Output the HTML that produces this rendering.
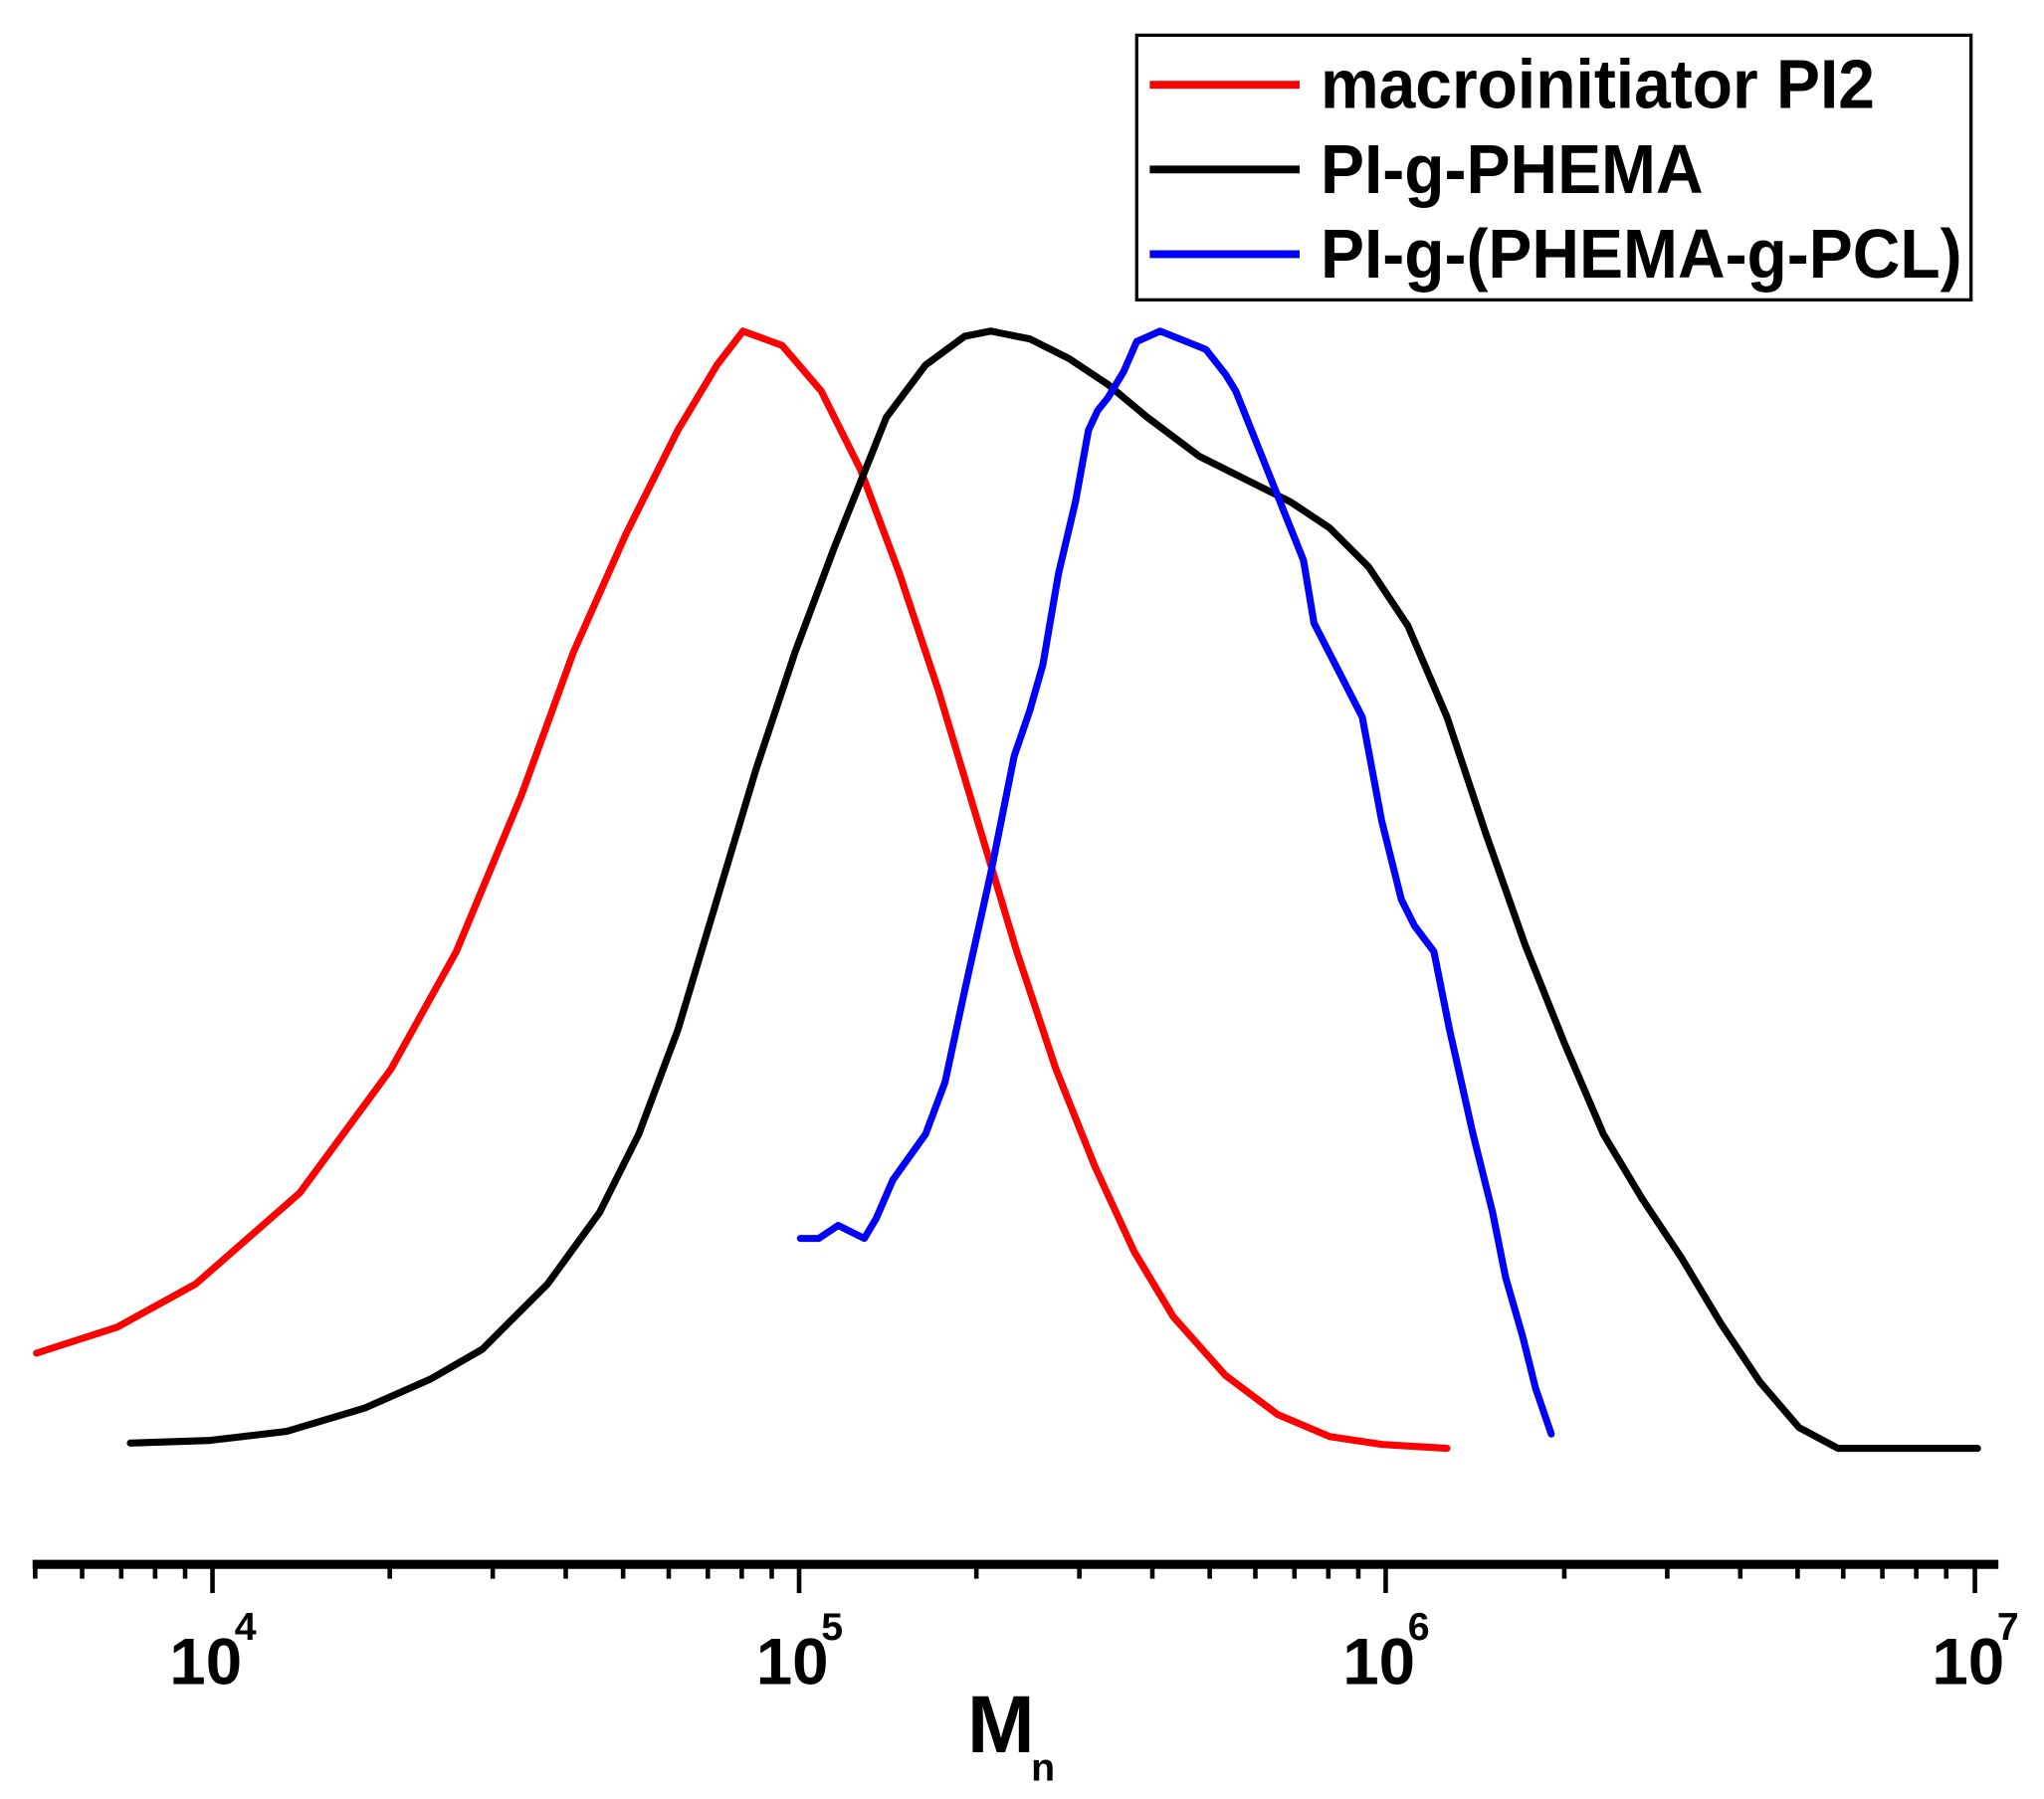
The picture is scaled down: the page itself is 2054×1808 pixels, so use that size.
<!DOCTYPE html>
<html><head><style>
html,body{margin:0;padding:0;background:#fff;}
svg{display:block;}
text{font-family:"Liberation Sans Narrow","Liberation Sans",sans-serif;font-weight:bold;fill:#000;}
</style></head><body>
<svg width="2054" height="1808" viewBox="0 0 1568 1380" preserveAspectRatio="none" xmlns="http://www.w3.org/2000/svg">
<g fill="none" stroke-width="5.4" stroke-linejoin="round" stroke-linecap="round">
<polyline stroke="#f00" points="28,1038 90,1018 150,985 230,915 300,820 350,730 400,610 440,500 480,410 520,330 550,280 570,254 600,265 630,300 660,360 690,440 720,530 750,630 780,730 810,820 840,895 870,960 900,1010 940,1055 980,1085 1020,1102 1060,1108 1110,1111"/>
<polyline stroke="#000" points="100,1107 160,1105 220,1098 280,1080 330,1058 370,1035 420,985 460,930 490,870 520,790 550,690 580,590 610,500 640,420 680,320 710,280 740,258 760,254 790,260 820,275 850,295 880,320 920,350 960,370 990,385 1020,405 1050,435 1080,480 1110,550 1140,640 1170,725 1200,800 1230,870 1260,920 1290,965 1320,1015 1350,1060 1380,1095 1410,1111 1517,1111"/>
<polyline stroke="#00f" points="614,950 628,950 643,940 663,950 672,935 685,905 710,870 725,830 740,760 760,670 778,580 790,545 800,510 812,440 825,385 835,330 842,315 850,305 862,285 872,262 890,254 905,260 925,268 940,287 948,300 960,330 980,380 1000,430 1008,478 1045,550 1060,630 1075,690 1085,710 1100,730 1112,790 1130,870 1145,930 1155,980 1168,1025 1178,1065 1190,1100"/>
</g>
<line x1="25" y1="1200" x2="1533" y2="1200" stroke="#000" stroke-width="7"/>
<g font-size="50">
<text x="130" y="1292">10</text><text x="180" y="1258" font-size="30">4</text>
<text x="580" y="1292">10</text><text x="630" y="1258" font-size="30">5</text>
<text x="1030" y="1292">10</text><text x="1080" y="1258" font-size="30">6</text>
<text x="1482" y="1292">10</text><text x="1532" y="1258" font-size="30">7</text>
</g>
<text x="742" y="1344" font-size="62">M</text>
<text x="791" y="1366" font-size="30">n</text>
<rect x="872" y="27" width="640" height="203" fill="none" stroke="#000" stroke-width="2.5"/>
<line x1="882" y1="65" x2="997" y2="65" stroke="#f00" stroke-width="6"/>
<line x1="882" y1="130" x2="997" y2="130" stroke="#000" stroke-width="6"/>
<line x1="882" y1="195" x2="997" y2="195" stroke="#00f" stroke-width="6"/>
<g font-size="53" transform="translate(1013,0) scale(0.95,1)">
<text x="0" y="83">macroinitiator PI2</text>
<text x="0" y="148">PI-g-PHEMA</text>
<text x="0" y="213">PI-g-(PHEMA-g-PCL)</text>
</g>
<g stroke="#000" stroke-width="3.5">
<line x1="27" y1="1200" x2="27" y2="1211"/>
<line x1="63" y1="1200" x2="63" y2="1211"/>
<line x1="93" y1="1200" x2="93" y2="1211"/>
<line x1="119" y1="1200" x2="119" y2="1211"/>
<line x1="142" y1="1200" x2="142" y2="1211"/>
<line x1="163" y1="1200" x2="163" y2="1222"/>
<line x1="299" y1="1200" x2="299" y2="1211"/>
<line x1="378" y1="1200" x2="378" y2="1211"/>
<line x1="434" y1="1200" x2="434" y2="1211"/>
<line x1="478" y1="1200" x2="478" y2="1211"/>
<line x1="513" y1="1200" x2="513" y2="1211"/>
<line x1="543" y1="1200" x2="543" y2="1211"/>
<line x1="569" y1="1200" x2="569" y2="1211"/>
<line x1="592" y1="1200" x2="592" y2="1211"/>
<line x1="613" y1="1200" x2="613" y2="1222"/>
<line x1="749" y1="1200" x2="749" y2="1211"/>
<line x1="828" y1="1200" x2="828" y2="1211"/>
<line x1="884" y1="1200" x2="884" y2="1211"/>
<line x1="928" y1="1200" x2="928" y2="1211"/>
<line x1="963" y1="1200" x2="963" y2="1211"/>
<line x1="993" y1="1200" x2="993" y2="1211"/>
<line x1="1019" y1="1200" x2="1019" y2="1211"/>
<line x1="1042" y1="1200" x2="1042" y2="1211"/>
<line x1="1063" y1="1200" x2="1063" y2="1222"/>
<line x1="1200" y1="1200" x2="1200" y2="1211"/>
<line x1="1279" y1="1200" x2="1279" y2="1211"/>
<line x1="1335" y1="1200" x2="1335" y2="1211"/>
<line x1="1379" y1="1200" x2="1379" y2="1211"/>
<line x1="1414" y1="1200" x2="1414" y2="1211"/>
<line x1="1444" y1="1200" x2="1444" y2="1211"/>
<line x1="1470" y1="1200" x2="1470" y2="1211"/>
<line x1="1493" y1="1200" x2="1493" y2="1211"/>
<line x1="1515" y1="1200" x2="1515" y2="1222"/>
</g>
</svg>
</body></html>
